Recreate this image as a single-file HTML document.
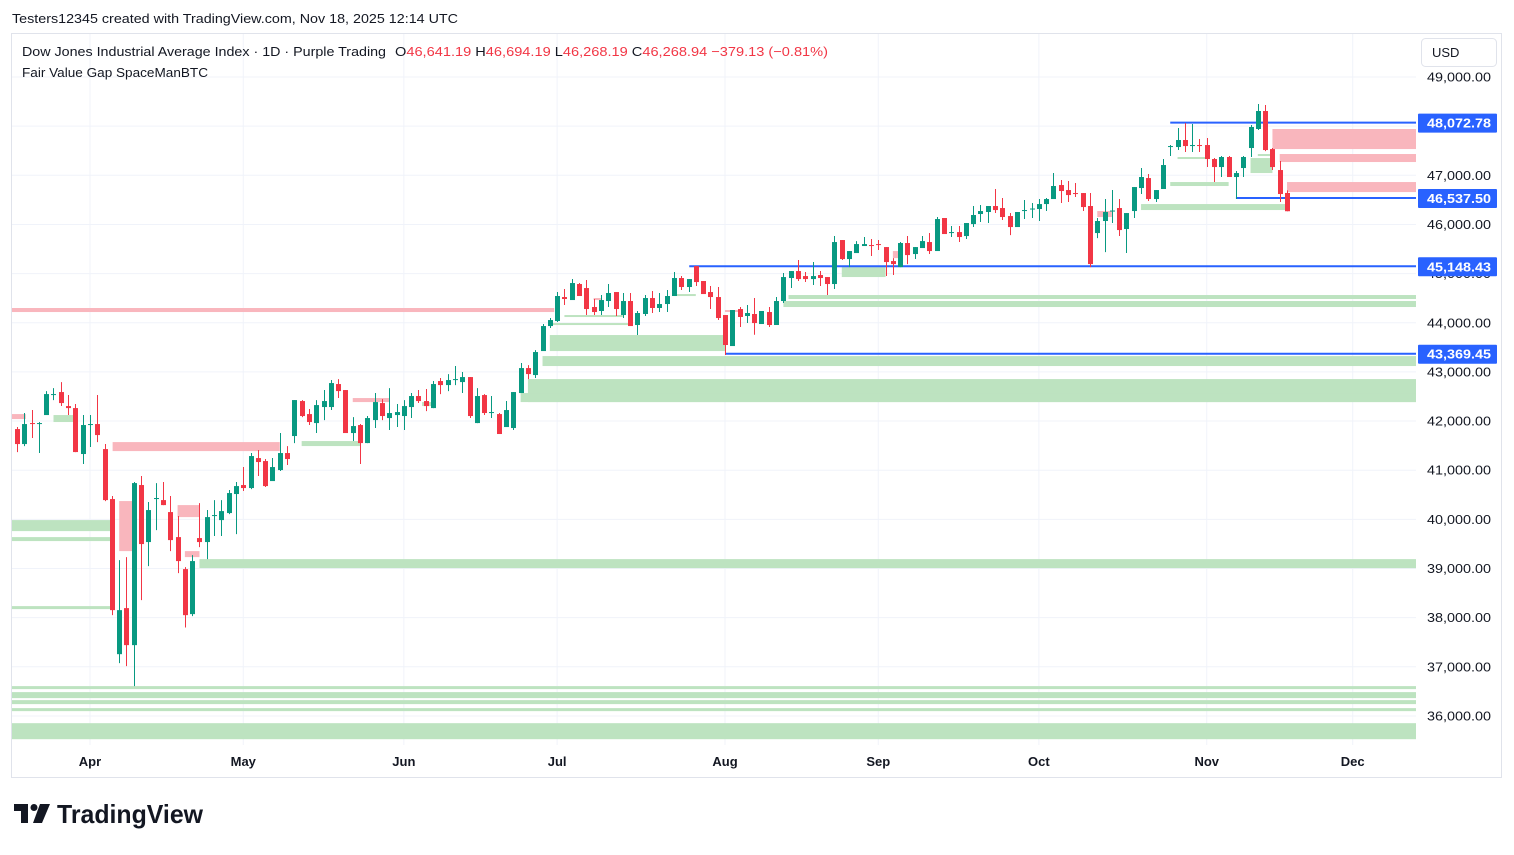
<!DOCTYPE html>
<html><head><meta charset="utf-8">
<style>
html,body{margin:0;padding:0;background:#fff;}
body{width:1514px;height:850px;overflow:hidden;font-family:"Liberation Sans",sans-serif;}
svg text{font-family:"Liberation Sans",sans-serif;}
</style></head>
<body>
<svg id="chart" width="1514" height="850" viewBox="0 0 1514 850" xmlns="http://www.w3.org/2000/svg">
  <text x="12" y="23" font-size="13" fill="#131722" textLength="446" lengthAdjust="spacingAndGlyphs">Testers12345 created with TradingView.com, Nov 18, 2025 12:14 UTC</text>
  <rect x="11.5" y="33.5" width="1490" height="744" fill="#fff" stroke="#e0e3eb"/>
  <g id="grid"></g>
  <g id="zones"></g>
  <g id="levels"></g>
  <g id="candles"></g>
  <g id="yaxis"></g>
  <g id="xaxis"></g>
  <g font-size="13">
    <text x="22" y="56" fill="#131722" textLength="364" lengthAdjust="spacingAndGlyphs">Dow Jones Industrial Average Index · 1D · Purple Trading</text>
    <text x="395" y="56" textLength="433" lengthAdjust="spacingAndGlyphs"><tspan fill="#131722">O</tspan><tspan fill="#f23645">46,641.19 </tspan><tspan fill="#131722"> H</tspan><tspan fill="#f23645">46,694.19 </tspan><tspan fill="#131722"> L</tspan><tspan fill="#f23645">46,268.19 </tspan><tspan fill="#131722"> C</tspan><tspan fill="#f23645">46,268.94 </tspan><tspan fill="#f23645"> −379.13 (−0.81%)</tspan></text>
    <text x="22" y="77" fill="#131722" textLength="186" lengthAdjust="spacingAndGlyphs">Fair Value Gap SpaceManBTC</text>
  </g>
  <g>
    <rect x="1421.5" y="38.5" width="75" height="28" rx="4" fill="#fff" stroke="#e0e3eb"/>
    <text x="1432" y="57" font-size="13" fill="#131722">USD</text>
  </g>
  <g>
    <path d="M14 804h14v19h-7v-12h-7z" fill="#131722"/>
    <circle cx="34" cy="807.5" r="3.5" fill="#131722"/>
    <path d="M40 804h10l-8 19h-9z" fill="#131722"/>
    <text x="57" y="823" font-size="26" font-weight="bold" fill="#131722" textLength="146" lengthAdjust="spacingAndGlyphs">TradingView</text>
  </g>
</svg>
<script>
// ---------- data ----------
const opens = [41837,41532,41959,41939,42122,42529,42590,42305,42264,41329,41919,41939,41430,40413,37257,38194,37441,40698,39538,40413,40392,40148,39639,38988,38072,39619,39538,40067,39985,40128,40515,40698,40637,41247,41186,40779,41003,41349,41695,42407,42142,41959,42285,42285,42753,42631,41756,41919,41552,42020,42366,42061,42122,42102,42285,42509,42407,42264,42814,42732,42854,42793,42895,41959,42529,42163,42142,41878,41858,42570,43078,42936,43424,43933,44035,44523,44462,44788,44706,44320,44239,44442,44625,44157,44442,43954,44178,44503,44300,44381,44544,44910,44727,45153,44849,44625,44523,44157,43526,44279,44137,44178,43974,44218,43954,44442,44910,45052,44950,44889,44971,44930,44788,45683,45296,45418,45561,45581,45601,45540,45255,45133,45622,45398,45520,45642,45459,46131,45825,45845,45764,46008,46212,46253,46375,46334,46171,45947,46273,46314,46314,46415,46517,46802,46700,46639,46639,46375,45825,46070,46273,46334,45907,46273,46741,46944,46517,46721,47575,47575,47718,47595,47616,47616,47331,47168,47372,46965,47148,47555,47942,48308,47534,47107,46641];
const closes = [41532,41939,41939,41959,42549,42549,42366,42264,41369,41919,41939,41715,40392,38153,38153,37441,40738,39497,40189,40434,40290,39578,39151,38051,39151,39538,40046,40087,40168,40535,40677,40637,41288,41166,40677,41064,41349,41227,42427,42102,41980,42325,42407,42773,42610,41756,41898,41552,42061,42386,42102,42163,42183,42305,42509,42407,42305,42753,42732,42834,42854,42895,42102,42509,42163,42183,41736,42224,42590,43078,42956,43404,43933,44055,44544,44483,44808,44544,44279,44218,44462,44605,44279,44442,43933,44198,44503,44300,44381,44544,44910,44727,44889,44828,44584,44523,44096,43547,44259,44117,44198,43994,44239,43954,44442,44930,45052,44889,44889,44950,44910,44788,45642,45296,45459,45601,45601,45571,45591,45235,45194,45622,45377,45540,45662,45459,46110,45805,45845,45744,46029,46192,46273,46375,46293,46151,45947,46253,46293,46324,46415,46517,46782,46680,46598,46629,46354,45194,46070,46253,46283,45886,46232,46761,46965,46517,46700,47209,47595,47718,47595,47616,47595,47331,47168,47372,46965,47046,47372,47983,48308,47514,47168,46619,46269];
const highs = [41878,42163,42224,41980,42610,42671,42793,42529,42346,42122,42122,42529,41532,40474,39171,39232,40759,40881,40352,40738,40759,40474,40067,39029,39273,40331,40189,40392,40392,40596,40759,41064,41349,41410,41227,41247,41756,41491,42427,42427,42244,42427,42631,42834,42854,42631,42081,41939,42102,42570,42447,42671,42346,42427,42570,42631,42651,42814,42875,42956,43119,42997,42895,42671,42549,42509,42163,42407,42590,43180,43139,43444,43974,44096,44625,44686,44889,44808,44869,44483,44564,44788,44625,44605,44605,44239,44564,44645,44605,44666,45032,44950,44889,45153,44849,44747,44727,44157,44259,44320,44361,44503,44239,44320,44523,45011,45052,45276,45032,45235,45052,44930,45764,45683,45459,45662,45744,45703,45683,45540,45316,45642,45764,45540,45764,45825,46151,46131,45968,45968,46029,46375,46395,46375,46721,46537,46232,46253,46497,46436,46517,46537,47046,46904,46884,46843,46639,46639,46131,46517,46700,46517,46232,46761,47148,47026,46700,47331,47616,47963,48064,48044,47738,47758,47351,47392,47392,47087,47392,48023,48450,48430,47555,47290,46694];
const lows = [41369,41491,41654,41349,42122,42427,42305,42122,41369,41125,41471,41572,40372,38051,37074,37013,36607,38357,39049,39782,40290,39354,38907,37800,38031,39436,39191,39660,39660,40107,39700,40576,40616,40881,40657,40779,40983,41105,41552,42081,41919,41756,42020,42224,42468,41756,41593,41125,41552,41858,42020,41817,41878,41817,42061,42366,42203,42264,42549,42610,42732,42570,42061,41959,42122,42061,41736,41878,41817,42570,42854,42875,43424,43893,44015,44361,44462,44544,44157,44157,44157,44320,44137,44096,43933,43750,44137,44198,44218,44218,44544,44666,44625,44747,44584,44279,44055,43343,43526,43913,43994,43756,43974,43913,43954,44401,44706,44849,44828,44767,44747,44564,44686,45276,45133,45418,45561,45357,45479,44950,44971,45133,45194,45296,45520,45398,45459,45805,45744,45642,45703,45947,46049,46029,46232,46090,45784,45947,46110,46131,46070,46273,46517,46436,46456,46558,46273,45133,45723,45438,46029,45764,45418,46131,46619,46476,46456,46721,47392,47514,47473,47473,47473,47168,46863,46965,46965,46517,46965,47372,47922,47493,47107,46456,46268];
const priceTicks = [49000,48000,47000,46000,45000,44000,43000,42000,41000,40000,39000,38000,37000,36000];
const monthLabels = ["Apr","May","Jun","Jul","Aug","Sep","Oct","Nov","Dec"];
const monthIndex = [10,31,53,74,97,118,140,163,183];
// FVG zones: top price, bottom price, start index, end index (null = extends right)
const greenTop =    [39985,39639,38235,36607,36485,36322,36159,35853,39191,41593,42122,42854,42570,43322,43750,43994,44157,44584,42386,44564,44442,45133,46415,46863,47372,47351,47433];
const greenBottom = [39761,39558,38174,36546,36363,36241,36098,35527,39008,41491,41980,42386,42386,43119,43424,43954,44117,44544,42305,44483,44320,44930,46293,46782,47331,47046,47392];
const greenStart =  [-0.7,-0.7,-0.7,-0.7,-0.7,-0.7,-0.7,-0.7,25,39,5,70,69,72,73,73,75,90,55.5,105.7,105,113,154,158,159,169,170];
const greenEnd =    [13,13,13,null,null,null,null,null,null,47,7.7,null,null,null,97,84,83,93,57,null,null,119,174,166,163,172,172];
const redTop =    [44300,42142,41572,40372,40290,39354,42468,44503,44259,45459,46273,47942,47433,46863];
const redBottom = [44218,42041,41389,39354,40046,39232,42386,44462,44239,45316,46151,47534,47270,46659];
const redStart =  [-0.7,-0.7,13.1,14,22,23,46,79,97,120,148,172,173,174];
const redEnd =    [73.6,1.2,36,16,25,25,51,80,99,121,150,null,null,null];
const levelPrices = [48072.78,46537.50,45148.43,43369.45];
const levelStart =  [158,167,92.1,97];
const levelLabels = ["48,072.78","46,537.50","45,148.43","43,369.45"];

// ---------- scales ----------
const NS="http://www.w3.org/2000/svg";
const paneL=12, paneR=1416, paneT=34, paneB=745;
function y(p){return 77+(49000-p)/1000*49.15;}
function x(i){return 17+i*7.299;}
function mk(tag,attrs,parent){const e=document.createElementNS(NS,tag);for(const k in attrs)e.setAttribute(k,attrs[k]);parent.appendChild(e);return e;}

const grid=document.getElementById('grid');
priceTicks.forEach(p=>{
  const l=mk('line',{x1:paneL,x2:paneR,y1:y(p),y2:y(p),stroke:'#f0f3fa','stroke-width':1},grid);
  
  
});
monthIndex.forEach(i=>{
  const l=mk('line',{x1:x(i),x2:x(i),y1:paneT,y2:paneB,stroke:'#f0f3fa','stroke-width':1},grid);
  
  
});

const zones=document.getElementById('zones');
function zx1(s){return Math.max(paneL,x(s));}
function zx2(e){return e===null?paneR:x(e);}
greenTop.forEach((t,k)=>{
  const r=mk('rect',{x:zx1(greenStart[k]),y:y(t),width:zx2(greenEnd[k])-zx1(greenStart[k]),height:Math.max(2,y(greenBottom[k])-y(t)),fill:'#bde3c0'},zones);
  
  
});
redTop.forEach((t,k)=>{
  const r=mk('rect',{x:zx1(redStart[k]),y:y(t),width:zx2(redEnd[k])-zx1(redStart[k]),height:Math.max(2,y(redBottom[k])-y(t)),fill:'#f9b6bd'},zones);
  
  
});

const levels=document.getElementById('levels');
levelPrices.forEach((p,k)=>{
  const l=mk('line',{x1:x(levelStart[k]),x2:paneR,y1:y(p),y2:y(p),stroke:'#2962ff','stroke-width':2},levels);
  
  
});

const cg=document.getElementById('candles');
closes.forEach((c,i)=>{
  const o=opens[i], up=c>=o, col=up?'#089981':'#f23645', cx=Math.round(x(i))+0.5;
  const g=mk('g',{},cg);
  
  
  mk('line',{x1:cx,x2:cx,y1:y(highs[i]),y2:y(lows[i]),stroke:col,'stroke-width':1},g);
  const top=y(Math.max(o,c)), h=Math.max(1,y(Math.min(o,c))-top);
  mk('rect',{x:cx-2.5,y:top,width:5,height:h,fill:col},g);
});

const ya=document.getElementById('yaxis');
priceTicks.forEach(p=>{
  const t=mk('text',{x:1491,y:y(p)+4.5,'font-size':13,fill:'#131722','text-anchor':'end',textLength:64,lengthAdjust:'spacingAndGlyphs'},ya);
  t.textContent=p.toLocaleString('en-US',{minimumFractionDigits:2});
  
  
});
levelPrices.forEach((p,k)=>{
  const g=mk('g',{},ya);
  
  
  mk('rect',{x:1418,y:y(p)-9,width:79,height:19,fill:'#2962ff',rx:1},g);
  const t=mk('text',{x:1491,y:y(p)+5,'font-size':13,'font-weight':'bold',fill:'#fff','text-anchor':'end',textLength:64,lengthAdjust:'spacingAndGlyphs'},g);
  t.textContent=levelLabels[k];
});

const xa=document.getElementById('xaxis');
monthLabels.forEach((m,k)=>{
  const t=mk('text',{x:x(monthIndex[k]),y:766,'font-size':13,'font-weight':'bold',fill:'#131722','text-anchor':'middle'},xa);
  t.textContent=m;
  
  
});
</script>
</body></html>
